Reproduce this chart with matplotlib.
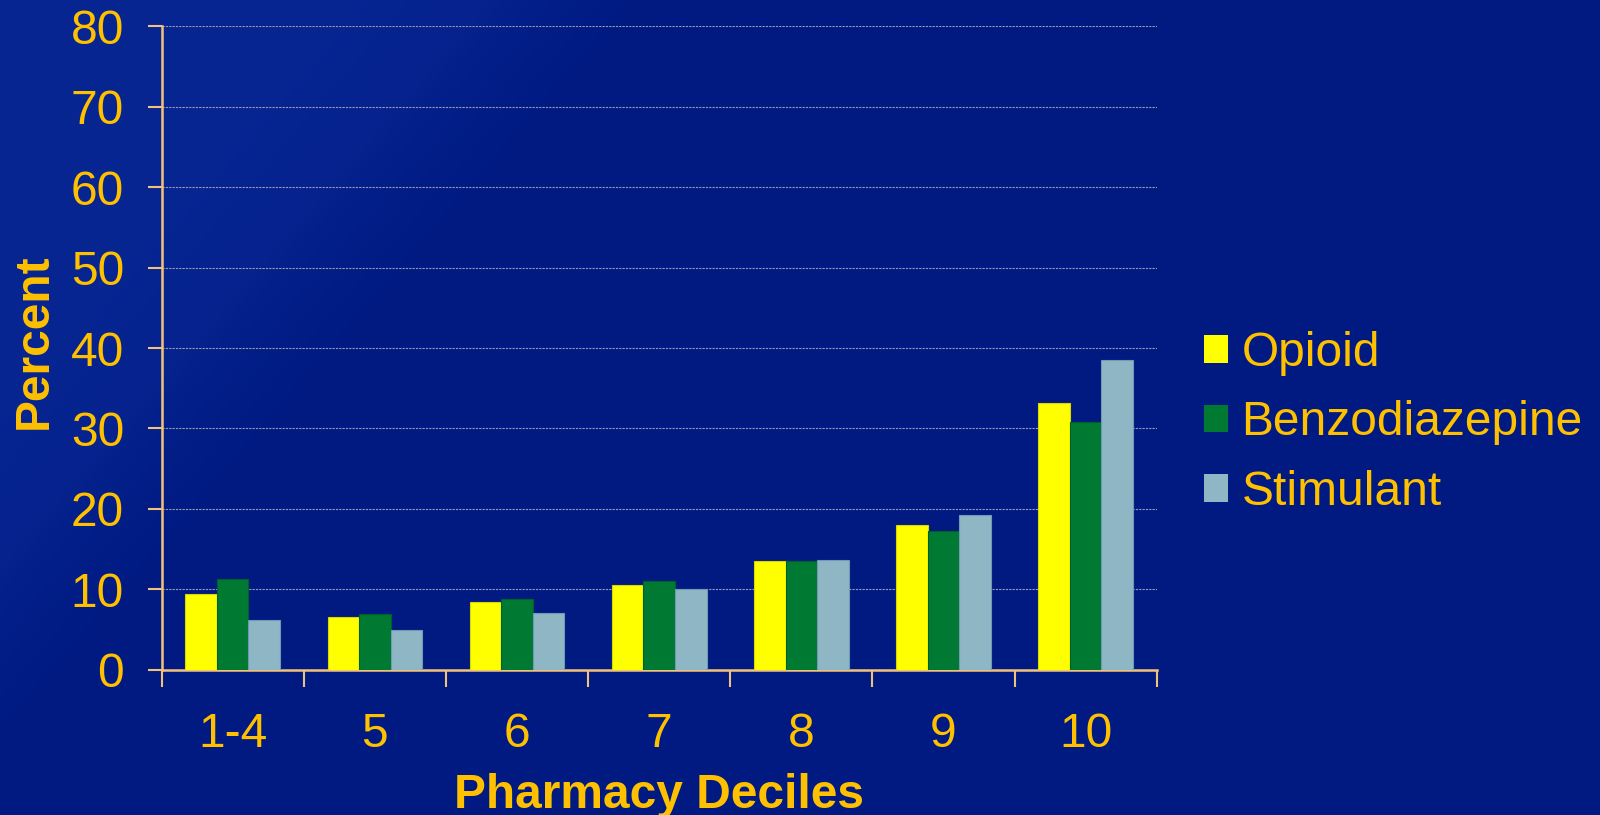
import numpy as np
import matplotlib
matplotlib.use("Agg")
import matplotlib.pyplot as plt
from matplotlib.patches import Patch

plt.rcParams['font.family'] = ['Liberation Sans', 'DejaVu Sans']

# prescription share by pharmacy decile
deciles = ['1-4', '5', '6', '7', '8', '9', '10']
opioid = [9.4, 6.6, 8.5, 10.6, 13.5, 18.0, 33.2]
benzodiazepine = [11.3, 7.0, 8.8, 11.0, 13.5, 17.3, 30.8]
stimulant = [6.2, 4.9, 7.1, 10.0, 13.7, 19.3, 38.5]
series_names = ['Opioid', 'Benzodiazepine', 'Stimulant']

gold = '#FFC000'
axis_col = '#F3C27A'
colors = ['#FFFF00', '#007A33', '#8FB6C4']
edges = ['#D8D800', '#00602A', '#6F9AB4']
fs = 34.5

fig = plt.figure(figsize=(16, 8.15), dpi=100)

# slide background: navy with a lighter diagonal sweep in the upper left
bg = fig.add_axes([0, 0, 1, 1])
h, w = 815, 1600
yy, xx = np.mgrid[0:h, 0:w]
s = xx / 640.0 + yy / 740.0
light = np.clip((1.02 - s) / 0.45, 0, 1)
band = np.exp(-((s - 0.75) / 0.06) ** 2) * 0.12
base = np.array([0x00, 0x1A, 0x82]) / 255.0
lite = np.array([0x0A, 0x2A, 0x98]) / 255.0
t = np.clip(light * 0.7 + band, 0, 1)[..., None]
img = base * (1 - t) + lite * t
bg.imshow(img, aspect='auto', extent=[0, 1, 0, 1], origin='upper')
bg.axis('off')

ax = fig.add_axes([0.101, 0.178, 0.622, 0.790])
ax.set_facecolor('none')

x = np.arange(len(deciles))
bw = 0.222
for i, vals in enumerate([opioid, benzodiazepine, stimulant]):
    ax.bar(x + (i - 1) * bw, vals, bw, color=colors[i], edgecolor=edges[i],
           linewidth=0.8, zorder=3, label=series_names[i])

ax.set_xlim(-0.5, len(deciles) - 0.5)
ax.set_ylim(0, 80)
ax.set_yticks(range(0, 81, 10))
ax.set_xticks(x)
ax.set_xticklabels(deciles)
ax.set_xticks(np.arange(-0.5, len(deciles), 1), minor=True)
ax.tick_params(axis='x', which='major', length=0, pad=30, labelsize=fs, labelcolor=gold)
ax.tick_params(axis='x', which='minor', length=12, width=1.5, color=axis_col, direction='out')
ax.tick_params(axis='y', length=10, width=1.5, color=axis_col, labelsize=fs,
               labelcolor=gold, pad=17)

ax.yaxis.grid(True, color='#9A9AB0', linestyle=(0, (2, 1)), linewidth=0.8, zorder=0)
for side in ['top', 'right']:
    ax.spines[side].set_visible(False)
for side in ['left', 'bottom']:
    ax.spines[side].set_color(axis_col)
    ax.spines[side].set_linewidth(1.8)

ax.set_xlabel('Pharmacy Deciles', fontsize=fs, fontweight='bold', color=gold)
ax.set_ylabel('Percent', fontsize=fs, fontweight='bold', color=gold)
ax.xaxis.label.set_va('center')
ax.xaxis.set_label_coords(0.5, -0.195)
ax.yaxis.label.set_va('center')
ax.yaxis.set_label_coords(-0.128, 0.51)

handles = [Patch(facecolor=colors[i], edgecolor='none') for i in range(3)]
leg = fig.legend(handles, series_names, loc='center left', bbox_to_anchor=(0.7525, 0.481),
                 frameon=False, fontsize=fs, handlelength=0.5, handleheight=0.5,
                 handletextpad=0.28, labelspacing=0.51, borderpad=0, borderaxespad=0)
for txt in leg.get_texts():
    txt.set_color(gold)

fig.savefig('out.png', dpi=100)
